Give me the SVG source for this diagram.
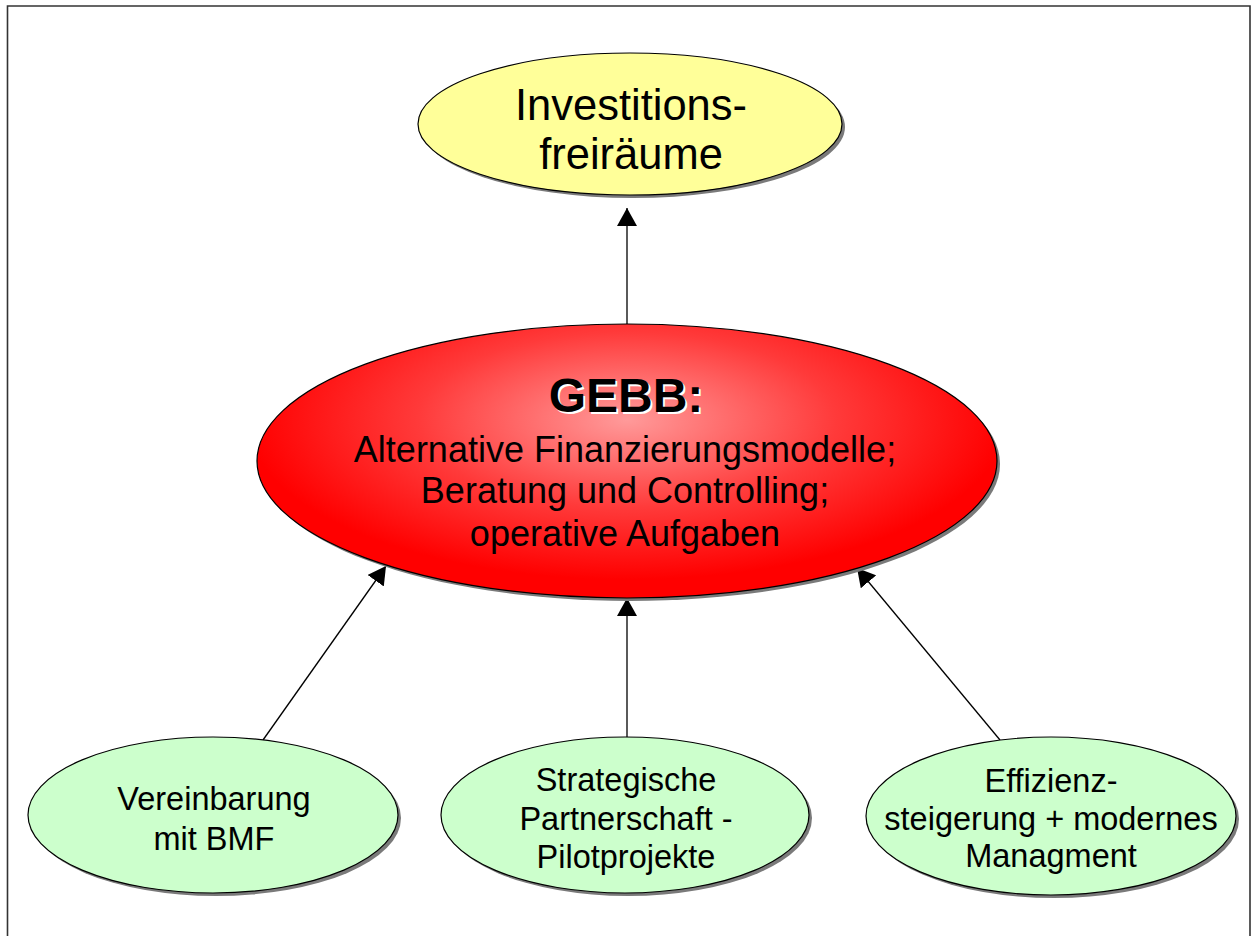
<svg xmlns="http://www.w3.org/2000/svg" width="1256" height="936" viewBox="0 0 1256 936">
<style>
  .node { stroke: #000; stroke-width: 1.2; }
  .shadow { fill: #7a7a7a; }
  .lbl { font-family: "Liberation Sans", Arial, sans-serif; fill: #000; text-anchor: middle; }
  .conn { stroke: #000; stroke-width: 1.3; fill: none; marker-end: url(#arrow); }
</style>
<defs>
  <marker id="arrow" markerUnits="userSpaceOnUse" markerWidth="22" markerHeight="20" refX="18" refY="10" orient="auto">
    <path d="M0,0 L18,10 L0,20 Z" fill="#000"/>
  </marker>
  <radialGradient id="redGrad" cx="627" cy="420" r="380" gradientUnits="userSpaceOnUse" gradientTransform="translate(627 420) scale(1 0.42) translate(-627 -420)">
    <stop offset="0" stop-color="#ff9a9a"/>
    <stop offset="0.55" stop-color="#ff3a3a"/>
    <stop offset="1" stop-color="#ff0000"/>
  </radialGradient>
</defs>
<rect width="1256" height="936" fill="#fff"/>
<path d="M7.5,940 V6 H1250 V940" fill="none" stroke="#333" stroke-width="1.6"/>

<g id="connectors">
  <line class="conn" x1="627" y1="325" x2="627" y2="208"/>
  <line class="conn" x1="627" y1="737" x2="627" y2="598"/>
  <line class="conn" x1="263" y1="740" x2="386" y2="566"/>
  <line class="conn" x1="1000" y1="740" x2="857" y2="568"/>
</g>

<g id="node-investition">
  <ellipse class="shadow" cx="633" cy="127" rx="212" ry="71"/>
  <ellipse class="node" cx="630" cy="124" rx="212" ry="71" fill="#ffff99"/>
  <text class="lbl" x="631" y="120" font-size="43.5">Investitions-</text>
  <text class="lbl" x="631" y="169" font-size="43.5">freiräume</text>
</g>

<g id="node-gebb">
  <ellipse class="shadow" cx="630" cy="464" rx="370" ry="137"/>
  <ellipse class="node" cx="627" cy="461" rx="370" ry="137" fill="url(#redGrad)"/>
  <text class="lbl" x="628" y="414" font-size="48" font-weight="bold" style="fill:#fff">GEBB:</text>
  <text class="lbl" x="626" y="412" font-size="48" font-weight="bold">GEBB:</text>
  <text class="lbl" x="625" y="462" font-size="36">Alternative Finanzierungsmodelle;</text>
  <text class="lbl" x="625" y="503" font-size="36">Beratung und Controlling;</text>
  <text class="lbl" x="625" y="546" font-size="36">operative Aufgaben</text>
</g>

<g id="node-bmf">
  <ellipse class="shadow" cx="216" cy="818" rx="185" ry="78"/>
  <ellipse class="node" cx="213" cy="815" rx="185" ry="78" fill="#ccffcc"/>
  <text class="lbl" x="214" y="810" font-size="32.5">Vereinbarung</text>
  <text class="lbl" x="214" y="850" font-size="32.5">mit BMF</text>
</g>

<g id="node-partnerschaft">
  <ellipse class="shadow" cx="628" cy="818" rx="184" ry="78"/>
  <ellipse class="node" cx="625" cy="815" rx="184" ry="78" fill="#ccffcc"/>
  <text class="lbl" x="626" y="791" font-size="32.5">Strategische</text>
  <text class="lbl" x="626" y="830" font-size="32.5">Partnerschaft -</text>
  <text class="lbl" x="626" y="868" font-size="32.5">Pilotprojekte</text>
</g>

<g id="node-effizienz">
  <ellipse class="shadow" cx="1054" cy="819" rx="185" ry="79"/>
  <ellipse class="node" cx="1051" cy="816" rx="185" ry="79" fill="#ccffcc"/>
  <text class="lbl" x="1051" y="792" font-size="32.5">Effizienz-</text>
  <text class="lbl" x="1051" y="830" font-size="32.5">steigerung + modernes</text>
  <text class="lbl" x="1051" y="867" font-size="32.5">Managment</text>
</g>
</svg>
